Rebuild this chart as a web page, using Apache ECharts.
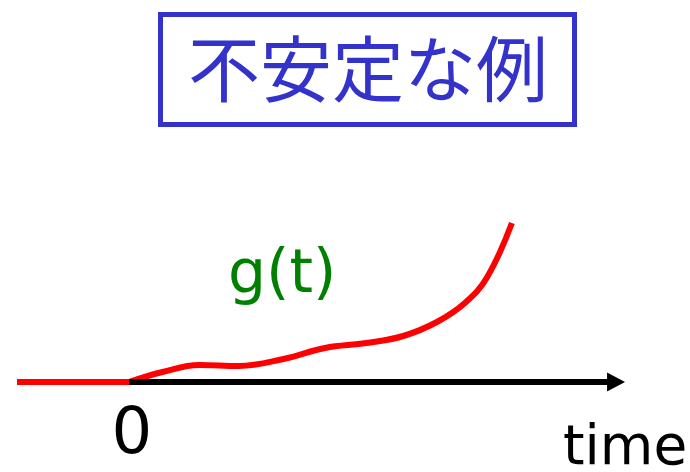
<!DOCTYPE html>
<html>
<head>
<meta charset="utf-8">
<script src="https://cdn.jsdelivr.net/npm/echarts@6/dist/echarts.min.js"></script>
<style>
  html, body { margin: 0; padding: 0; background: #ffffff; }
  #chart { width: 690px; height: 472px; }
</style>
</head>
<body>
<div id="chart"></div>
<script>
// Response g(t) of an unstable system: zero before t = 0, then growing without bound.
const timeBefore = [-1.0, 0.0];
const gBefore = [0.0, 0.0];
const timeAfter = [0.00, 0.30, 0.63, 0.98, 1.38, 1.75, 2.12, 2.45, 2.75, 3.00, 3.20, 3.42];
const gAfter = [0.0, 1.0, 1.7, 1.6, 2.3, 3.4, 3.9, 4.6, 6.0, 7.9, 10.5, 15.9];
const axisStart = 0;
const axisEnd = 4.35;
const tickLabels = ['0'];

const titleText = '不安定な例';
const curveLabel = 'g(t)';
const axisName = 'time';

const pairs = (xs, ys) => xs.map((x, i) => [x, ys[i]]);

const chart = echarts.init(document.getElementById('chart'), null, { renderer: 'canvas' });

chart.setOption({
  backgroundColor: '#ffffff',
  animation: false,
  title: {
    text: titleText,
    left: 160,
    top: 14,
    padding: [19, 27, 20, 28],
    borderColor: '#3333cc',
    borderWidth: 5,
    textStyle: {
      color: '#3333cc',
      fontFamily: 'Noto Sans CJK JP',
      fontSize: 72,
      fontWeight: 'normal',
      lineHeight: 72
    }
  },
  grid: { left: 17, right: 65, top: 222, bottom: 90, containLabel: false },
  xAxis: {
    type: 'value',
    min: -1,
    max: 4.43,
    interval: 1,
    axisLine: { show: false },
    axisTick: { show: false },
    splitLine: { show: false },
    axisLabel: {
      show: true,
      margin: 54,
      verticalAlign: 'middle',
      color: '#000000',
      fontFamily: 'DejaVu Sans',
      fontSize: 64,
      padding: [0, 0, 0, 6],
      showMinLabel: true,
      showMaxLabel: false,
      formatter: v => (tickLabels.includes(String(v)) ? String(v) : '')
    }
  },
  yAxis: {
    type: 'value',
    min: 0,
    max: 16,
    show: false
  },
  graphic: [
    {
      type: 'text',
      left: 228,
      top: 246,
      style: {
        text: curveLabel,
        fill: '#008000',
        font: '60px "DejaVu Sans"'
      }
    },
    {
      type: 'text',
      left: 563,
      top: 422,
      style: {
        text: axisName,
        fill: '#000000',
        font: '55px "DejaVu Sans"'
      }
    }
  ],
  series: [
    {
      // time axis drawn from t = 0 with an arrow head
      type: 'line',
      data: [],
      z: 1,
      markLine: {
        silent: true,
        symbol: ['none', 'triangle'],
        symbolSize: [19, 18],
        label: { show: false },
        lineStyle: { color: '#000000', width: 6, type: 'solid' },
        emphasis: { disabled: true },
        data: [[{ coord: [axisStart, 0] }, { coord: [axisEnd, 0] }]]
      }
    },
    {
      type: 'line',
      data: pairs(timeBefore, gBefore),
      z: 3,
      symbol: 'none',
      lineStyle: { color: '#ff0000', width: 6 }
    },
    {
      type: 'line',
      data: pairs(timeAfter, gAfter),
      z: 3,
      symbol: 'none',
      smooth: 0.4,
      lineStyle: { color: '#ff0000', width: 6, cap: 'butt', join: 'round' }
    }
  ]
});
</script>
</body>
</html>
